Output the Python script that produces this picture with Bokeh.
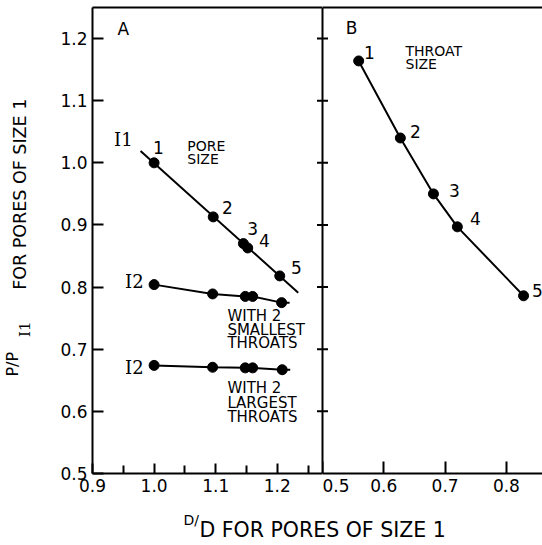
from math import pi
from bokeh.plotting import figure
from bokeh.models import Range1d, LinearAxis, FixedTicker, Label, PrintfTickFormatter
from bokeh.layouts import row, column
from bokeh.embed import file_html
from bokeh.resources import INLINE

FONT = "DejaVu Sans"

# ---------------- data ----------------
size_labels = ["1", "2", "3", "4", "5"]

# Panel A: pore size (D/D) vs P/P_I1
i1_x = [1.0, 1.096, 1.145, 1.152, 1.204]
i1_y = [1.0, 0.913, 0.870, 0.863, 0.818]
i1_fit_x = [0.978, 1.234]
i1_fit_y = [1.019, 0.791]

small_x = [1.0, 1.095, 1.148, 1.160, 1.207]
small_y = [0.804, 0.789, 0.785, 0.785, 0.775]
small_end_x = [1.220]
small_end_y = [0.775]

large_x = [1.0, 1.095, 1.148, 1.160, 1.208]
large_y = [0.674, 0.671, 0.670, 0.670, 0.667]
large_end_x = [1.221]
large_end_y = [0.667]

# Panel B: throat size
throat_x = [0.559, 0.627, 0.681, 0.720, 0.828]
throat_y = [1.164, 1.040, 0.950, 0.897, 0.786]

y_ticks = [0.5, 0.6, 0.7, 0.8, 0.9, 1.0, 1.1, 1.2]
divider_ticks = [0.6, 0.7, 0.8, 0.9, 1.0, 1.1, 1.2]
xa_ticks = [0.9, 1.0, 1.1, 1.2]
xa_minor = [0.95, 1.05, 1.15, 1.25]
xb_ticks = [0.5, 0.6, 0.7, 0.8]

Y_RANGE = (0.5, 1.25)
XA_RANGE = (0.9, 1.2734)
XB_RANGE = (0.5, 0.8589)

PLOT_H = 505


def lab(p, text, x, y, size, align="center", baseline="middle", font=FONT,
        angle=0.0):
    p.add_layout(Label(x=x, y=y, text=text, text_font=font,
                       text_font_size=f"{size}px", text_color="black",
                       text_align=align, text_baseline=baseline, angle=angle))


def axis(ticks, minor=None, tick_in=10, minor_in=8):
    ax = LinearAxis(ticker=FixedTicker(ticks=ticks, minor_ticks=minor or []))
    ax.formatter = PrintfTickFormatter(format="%.1f")
    ax.axis_line_color = "black"
    ax.axis_line_width = 2
    ax.major_tick_in = tick_in
    ax.major_tick_out = 0
    ax.minor_tick_in = minor_in
    ax.minor_tick_out = 0
    ax.major_tick_line_width = 2
    ax.minor_tick_line_width = 2
    ax.major_tick_line_color = "black"
    ax.minor_tick_line_color = "black"
    ax.major_label_text_font = FONT
    ax.major_label_text_font_size = "17px"
    ax.major_label_text_color = "black"
    ax.major_label_standoff = 5
    return ax


def base_fig(width, xr, left, right):
    p = figure(width=width, height=PLOT_H, x_range=Range1d(*xr), y_range=Range1d(*Y_RANGE),
               output_backend="svg", toolbar_location=None,
               x_axis_type=None, y_axis_type=None,
               min_border_left=left, min_border_right=right,
               min_border_top=7, min_border_bottom=32)
    p.outline_line_color = None
    p.background_fill_color = "white"
    p.border_fill_color = "white"
    return p


def strip(width, height):
    p = figure(width=width, height=height, x_range=Range1d(0, width), y_range=Range1d(height, 0),
               output_backend="svg", toolbar_location=None,
               x_axis_type=None, y_axis_type=None, min_border=0)
    p.outline_line_color = None
    return p


# ---------------- y-axis title strip ----------------
YW = 36
pY = strip(YW, PLOT_H)
lab(pY, "P/P", 12, 400, 16, align="left", angle=pi / 2)
lab(pY, "I1", 24, 357, 15, align="left", angle=pi / 2, font="DejaVu Serif")
lab(pY, "FOR PORES OF SIZE 1", 19, 306, 17.5, align="left", angle=pi / 2)

# ---------------- panel A ----------------
pA = base_fig(322 - YW, XA_RANGE, 92 - YW, 0)
pA.add_layout(axis(y_ticks, tick_in=11), "left")
pA.add_layout(axis(xa_ticks, xa_minor, tick_in=10), "below")
pA.add_layout(axis([]), "above")
pA.add_layout(axis([]), "right")
# left halves of the ticks that cross the A|B divider
pA.scatter([XA_RANGE[1]] * len(divider_ticks), divider_ticks, marker="dash",
           size=11, line_color="black", line_width=2)

pA.line(i1_fit_x, i1_fit_y, line_color="black", line_width=2)
pA.scatter(i1_x, i1_y, size=10, color="black")
pA.line(small_x + small_end_x, small_y + small_end_y, line_color="black", line_width=2)
pA.scatter(small_x, small_y, size=10, color="black")
pA.line(large_x + large_end_x, large_y + large_end_y, line_color="black", line_width=2)
pA.scatter(large_x, large_y, size=10, color="black")

lab(pA, "A", 0.950, 1.216, 17)
lab(pA, "I1", 0.950, 1.037, 18, font="DejaVu Serif")
lab(pA, "I2", 0.968, 0.809, 18, font="DejaVu Serif")
lab(pA, "I2", 0.968, 0.670, 18, font="DejaVu Serif")
a_num_pos = [(1.007, 1.024), (1.119, 0.928), (1.160, 0.894), (1.179, 0.875), (1.231, 0.831)]
for t, (x, y) in zip(size_labels, a_num_pos):
    lab(pA, t, x, y, 17)
lab(pA, "PORE", 1.054, 1.027, 14, align="left")
lab(pA, "SIZE", 1.054, 1.006, 14, align="left")
for t, y in zip(["WITH 2", "SMALLEST", "THROATS"], [0.754, 0.7315, 0.710]):
    lab(pA, t, 1.119, y, 15, align="left")
for t, y in zip(["WITH 2", "LARGEST", "THROATS"], [0.637, 0.614, 0.591]):
    lab(pA, t, 1.119, y, 15, align="left")

# ---------------- panel B ----------------
pB = base_fig(220, XB_RANGE, 0, 0)
pB.add_layout(axis([]), "left")
pB.add_layout(axis(xb_ticks, tick_in=12), "below")
pB.add_layout(axis([]), "above")
# right halves of the ticks that cross the A|B divider
pB.scatter([XB_RANGE[0]] * len(divider_ticks), divider_ticks, marker="dash",
           size=11, line_color="black", line_width=2)

pB.line(throat_x, throat_y, line_color="black", line_width=2)
pB.scatter(throat_x, throat_y, size=10, color="black")

lab(pB, "B", 0.5473, 1.217, 17)
lab(pB, "THROAT", 0.6354, 1.180, 14, align="left")
lab(pB, "SIZE", 0.6354, 1.159, 14, align="left")
b_num_pos = [(0.5767, 1.177), (0.6517, 1.050), (0.7153, 0.955), (0.7496, 0.910), (0.8507, 0.794)]
for t, (x, y) in zip(size_labels, b_num_pos):
    lab(pB, t, x, y, 17)

# ---------------- x-axis title strip ----------------
pL = strip(542, 545 - PLOT_H)
lab(pL, "D/", 183, 14, 14, align="left")
lab(pL, "D FOR PORES OF SIZE 1", 199, 24, 20.5, align="left")

layout = column(row(pY, pA, pB), pL)
open("out.html", "w").write(file_html(layout, INLINE))
